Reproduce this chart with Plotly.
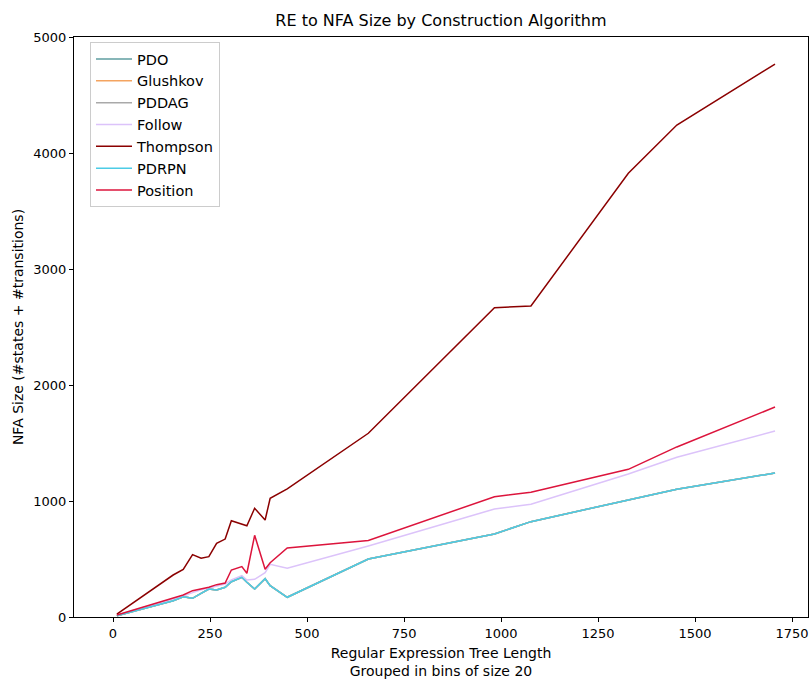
import plotly.graph_objects as go

x_vals = [10, 155, 181, 205, 227, 247, 267, 289, 305, 332, 345, 365, 392, 405, 449, 658, 983, 1077, 1328, 1453, 1706]

pdrpn = [10, 140, 175, 161, 204, 241, 233, 256, 304, 342, 299, 241, 330, 270, 170, 500, 716, 822, 1009, 1101, 1241]
pdo = list(pdrpn)
glushkov = list(pdrpn)
pddag = list(pdrpn)
follow = [15, 150, 180, 210, 235, 250, 265, 285, 320, 356, 319, 325, 382, 454, 420, 612, 931, 972, 1233, 1377, 1603]
thompson = [25, 362, 411, 538, 506, 520, 635, 672, 830, 801, 787, 937, 836, 1023, 1105, 1584, 2667, 2681, 3825, 4241, 4767]
position = [17, 165, 190, 227, 243, 256, 279, 293, 405, 434, 377, 704, 411, 468, 595, 660, 1037, 1075, 1273, 1466, 1810]

series = [
    ("PDO", pdo, "#5F9EA0"),
    ("Glushkov", glushkov, "#F4A460"),
    ("PDDAG", pddag, "#A9A9A9"),
    ("Follow", follow, "#DCC3FA"),
    ("Thompson", thompson, "#8B0000"),
    ("PDRPN", pdrpn, "#4CCCE6"),
    ("Position", position, "#DC143C"),
]

fig = go.Figure()
for name, ys, color in series:
    fig.add_trace(go.Scatter(x=x_vals, y=ys, mode="lines", name=name,
                             line=dict(color=color, width=1.5)))

font = "DejaVu Sans"
fig.update_layout(
    width=812, height=679,
    margin=dict(l=74, r=4, t=37, b=62, autoexpand=False),
    paper_bgcolor="white", plot_bgcolor="white",
    font=dict(family=font, size=13, color="black"),
    title=dict(text="RE to NFA Size by Construction Algorithm", x=0.543, xanchor="center",
               y=1 - 20 / 679, yanchor="middle", font=dict(size=16)),
    legend=dict(x=(90 - 74) / 734, y=1 - (42 - 37) / 580, xanchor="left", yanchor="top",
                bordercolor="#cccccc", borderwidth=1, bgcolor="rgba(255,255,255,0.8)",
                font=dict(size=14.5), tracegroupgap=0, itemwidth=36),
    showlegend=True,
)
fig.update_xaxes(range=[-100.5, 1791], tickvals=[0, 250, 500, 750, 1000, 1250, 1500, 1750],
                 showgrid=False, zeroline=False, showline=True, linecolor="black", linewidth=1,
                 mirror=True, ticks="outside", ticklen=4, tickcolor="black",
                 title=dict(text="Regular Expression Tree Length<br>Grouped in bins of size 20",
                            standoff=8, font=dict(size=14)))
fig.update_yaxes(range=[0, 5000], tickvals=[0, 1000, 2000, 3000, 4000, 5000],
                 showgrid=False, zeroline=False, showline=True, linecolor="black", linewidth=1,
                 mirror=True, ticks="outside", ticklen=4, tickcolor="black",
                 title=dict(text="NFA Size (#states + #transitions)", standoff=6, font=dict(size=14)))

fig.write_html("out.html")
